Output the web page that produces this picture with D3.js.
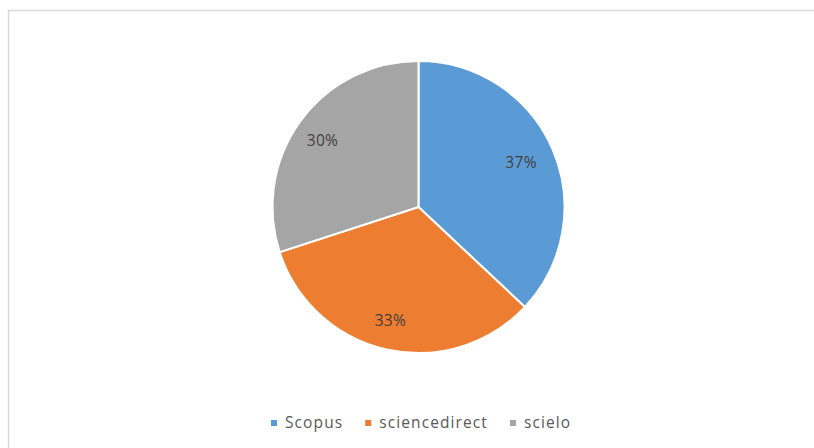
<!DOCTYPE html>
<html>
<head>
<meta charset="utf-8">
<script src="https://cdn.jsdelivr.net/npm/d3@7"></script>
<style>
  body { margin: 0; background: #fff; }
  text { font-family: "Open Sans", "Noto Sans", sans-serif; }
</style>
</head>
<body>
<svg id="chart" width="814" height="448"></svg>
<script>
// data
var sources = ["Scopus", "sciencedirect", "scielo"];
var counts = [37, 33, 30];
var colors = ["#5b9bd5", "#ed7d31", "#a5a5a5"];

var svg = d3.select("svg#chart"),
    width = +svg.attr("width"),
    height = +svg.attr("height");

// chart frame
svg.append("rect")
    .attr("x", 8.5).attr("y", 10.5)
    .attr("width", 820).attr("height", 460)
    .attr("fill", "#fff")
    .attr("stroke", "#d9d9d9")
    .attr("stroke-width", 1.5);

var cx = 418.5, cy = 207, radius = 146;
var total = d3.sum(counts);

var pie = d3.pie().sort(null).value(function (d) { return d; });
var arc = d3.arc().innerRadius(0).outerRadius(radius);
var labelArc = d3.arc().innerRadius(115).outerRadius(115);

var g = svg.append("g").attr("transform", "translate(" + cx + "," + cy + ")");

var slices = g.selectAll("g.slice")
    .data(pie(counts))
    .enter()
    .append("g")
    .attr("class", "slice");

slices.append("path")
    .attr("d", arc)
    .attr("fill", function (d, i) { return colors[i]; })
    .attr("stroke", "#fff")
    .attr("stroke-width", 2);

slices.append("text")
    .attr("transform", function (d) {
        var c = labelArc.centroid(d);
        return "translate(" + (c[0] - 3) + "," + (c[1] + 1) + ")";
    })
    .attr("text-anchor", "middle")
    .attr("dy", "0.35em")
    .attr("font-size", 15.5)
    .attr("letter-spacing", 0.3)
    .attr("fill", "#404040")
    .text(function (d) { return Math.round(d.value / total * 100) + "%"; });

// legend
var legend = svg.append("g").attr("transform", "translate(0,423)");
var x = 271;
sources.forEach(function (name, i) {
    legend.append("rect")
        .attr("x", x).attr("y", -3)
        .attr("width", 6).attr("height", 6)
        .attr("fill", colors[i]);
    var t = legend.append("text")
        .attr("x", x + 14)
        .attr("dy", "0.35em")
        .attr("font-size", 15.5)
        .attr("letter-spacing", 1.1)
        .attr("fill", "#595959")
        .text(name);
    x += 14 + t.node().getComputedTextLength() + 22;
});
</script>
</body>
</html>
